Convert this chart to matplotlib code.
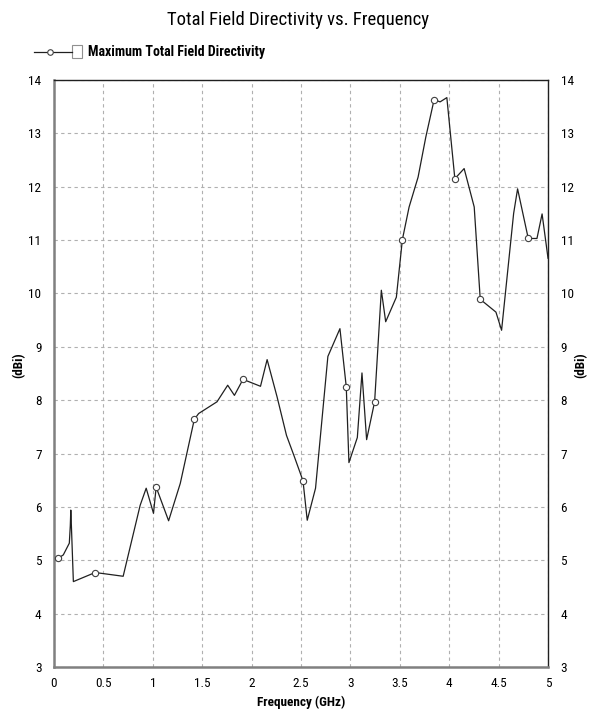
import matplotlib
matplotlib.use('Agg')
import matplotlib.pyplot as plt
from matplotlib.lines import Line2D
from matplotlib.patches import Rectangle

plt.rcParams['font.family'] = ['Liberation Sans Narrow', 'Arial Narrow', 'Roboto Condensed',
                               'Archivo Narrow', 'PT Sans Narrow', 'Liberation Sans', 'DejaVu Sans']

# frequency (GHz) and directivity (dBi)
freq = [0.044, 0.094, 0.155, 0.165, 0.170, 0.176, 0.196, 0.416, 0.500, 0.700,
        0.872, 0.933, 1.007, 1.034, 1.160, 1.278, 1.420, 1.464, 1.650, 1.758,
        1.826, 1.913, 2.090, 2.157, 2.258, 2.353, 2.427, 2.520, 2.563, 2.647,
        2.772, 2.894, 2.958, 2.985, 3.070, 3.117, 3.164, 3.245, 3.313, 3.357,
        3.465, 3.526, 3.594, 3.685, 3.763, 3.847, 3.908, 3.976, 4.057, 4.151,
        4.253, 4.314, 4.473, 4.530, 4.652, 4.692, 4.800, 4.888, 4.940, 5.000]
dbi = [5.04, 5.10, 5.32, 5.65, 5.94, 5.65, 4.60, 4.77, 4.75, 4.70,
       6.03, 6.35, 5.88, 6.37, 5.74, 6.44, 7.64, 7.75, 7.97, 8.28,
       8.09, 8.39, 8.26, 8.76, 8.06, 7.34, 6.97, 6.49, 5.75, 6.35,
       8.82, 9.34, 8.25, 6.83, 7.30, 8.51, 7.26, 7.97, 10.06, 9.47,
       9.93, 11.01, 11.62, 12.18, 12.93, 13.63, 13.59, 13.67, 12.15, 12.34,
       11.62, 9.89, 9.65, 9.31, 11.50, 11.96, 11.03, 11.03, 11.49, 10.66]
marker_freq = [0.044, 0.416, 1.034, 1.420, 1.913, 2.520, 2.958, 3.245,
               3.526, 3.847, 4.057, 4.314, 4.800]
xticks = [0, 0.5, 1, 1.5, 2, 2.5, 3, 3.5, 4, 4.5, 5]
xticklabels = ['0', '0.5', '1', '1.5', '2', '2.5', '3', '3.5', '4', '4.5', '5']
yticks = list(range(3, 15))

mark_idx = [freq.index(f) for f in marker_freq]

fig = plt.figure(figsize=(5.96, 7.11), dpi=100)
ax = fig.add_axes([0.0906, 0.0619, 0.8289, 0.8256])

ax.plot(freq, dbi, color='#202020', lw=0.9, marker='o', markersize=4.5,
        markerfacecolor='white', markeredgecolor='#404040', markeredgewidth=0.8,
        markevery=mark_idx, zorder=3)

ax.set_xlim(0, 5)
ax.set_ylim(3, 14)
ax.set_xticks(xticks)
ax.set_xticklabels(xticklabels)
ax.set_yticks(yticks)
ax.grid(True, color='#b0b0b0', ls=(0, (3, 3)), lw=0.8)
ax.tick_params(axis='both', length=0, labelsize=9.5, pad=9)
ax.tick_params(axis='y', labelright=True, right=False)
ax.tick_params(axis='x', pad=7)

for s in ['left', 'bottom']:
    ax.spines[s].set_color('#808080')
    ax.spines[s].set_linewidth(1.8)
for s in ['top', 'right']:
    ax.spines[s].set_color('#202020')
    ax.spines[s].set_linewidth(1.0)

fig.text(0.5 * (0.0906 + 0.9195), 1 - 702 / 711, 'Frequency (GHz)', fontsize=9.5,
         fontweight='bold', ha='center', va='center')
fig.text(0.032, 0.487, '(dBi)', rotation=90, fontsize=9.5, fontweight='bold',
         ha='center', va='center')
fig.text(0.975, 0.487, '(dBi)', rotation=90, fontsize=9.5, fontweight='bold',
         ha='center', va='center')

fig.text(0.5, 0.972, 'Total Field Directivity vs. Frequency', fontsize=13.5,
         ha='center', va='center')

# legend: line sample with marker, checkbox, label
ly = 1 - 52 / 711
fig.add_artist(Line2D([34 / 596, 72 / 596], [ly, ly], color='#202020', lw=0.9,
                      transform=fig.transFigure))
fig.add_artist(Line2D([50 / 596], [ly], marker='o', markersize=4,
                      markerfacecolor='white', markeredgecolor='#404040',
                      markeredgewidth=0.8, transform=fig.transFigure))
fig.add_artist(Rectangle((72 / 596, ly - 6 / 711), 10 / 596, 13 / 711,
                         facecolor='white', edgecolor='#909090', lw=0.8,
                         transform=fig.transFigure))
fig.text(88 / 596, ly, 'Maximum Total Field Directivity', fontsize=10,
         fontweight='bold', ha='left', va='center')

fig.savefig('out.png', dpi=100)
